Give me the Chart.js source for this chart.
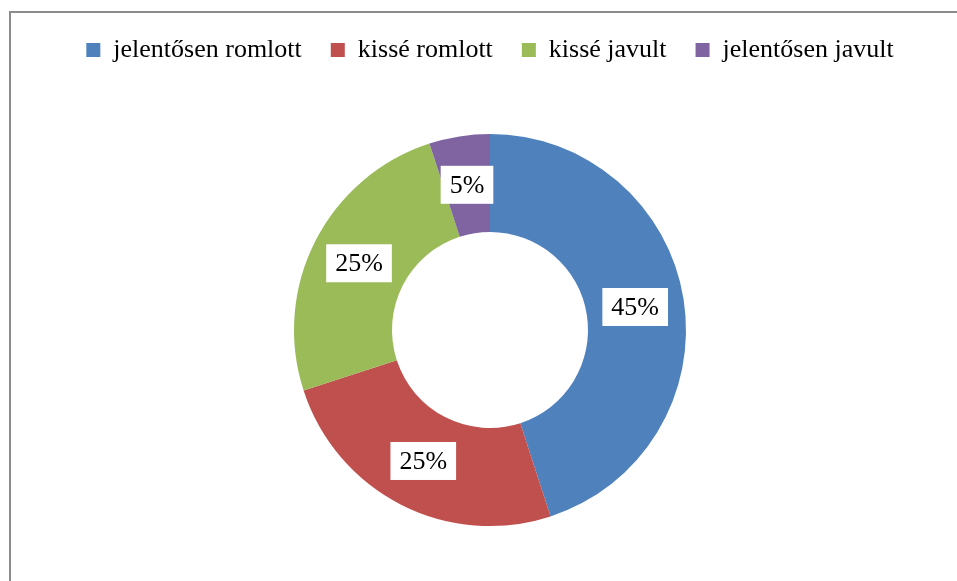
<!DOCTYPE html>
<html>
<head>
<meta charset="utf-8">
<script src="https://cdn.jsdelivr.net/npm/chart.js@4.4.1/dist/chart.umd.min.js"></script>
<style>
  html, body { margin: 0; padding: 0; background: #fff; overflow: hidden; width: 957px; height: 581px; }
  #frame { position: absolute; left: 9px; top: 11px; width: 960px; height: 580px; border-left: 2px solid #8c8c8c; border-top: 2px solid #8c8c8c; }
  #wrap { position: absolute; left: 0; top: 0; width: 957px; height: 581px; }
</style>
</head>
<body>
<div id="frame"></div>
<div id="wrap"><canvas id="myChart"></canvas></div>
<script>
const categories = ['jelentősen romlott', 'kissé romlott', 'kissé javult', 'jelentősen javult'];
const shares = [45, 25, 25, 5];
const colors = ['#4F81BD', '#C0504D', '#9BBB59', '#8064A2'];

const serif = '"Liberation Serif", "Times New Roman", serif';

// push the doughnut down below the legend
const legendSpacer = {
  id: 'legendSpacer',
  beforeInit(chart) {
    const fit = chart.legend.fit;
    chart.legend.fit = function () {
      fit.call(this);
      this.height = 126;
    };
  }
};

// percentage labels in white boxes
const valueBoxes = {
  id: 'valueBoxes',
  afterDatasetsDraw(chart) {
    const ctx = chart.ctx;
    const meta = chart.getDatasetMeta(0);
    ctx.save();
    ctx.font = '26px ' + serif;
    ctx.textAlign = 'center';
    ctx.textBaseline = 'middle';
    meta.data.forEach(function (arc, i) {
      const p = arc.tooltipPosition();
      const text = shares[i] + '%';
      const w = ctx.measureText(text).width + 18;
      const h = 38;
      ctx.fillStyle = '#fff';
      ctx.fillRect(p.x - w / 2, p.y - h / 2, w, h);
      ctx.fillStyle = '#000';
      ctx.fillText(text, p.x, p.y + 1);
    });
    ctx.restore();
  }
};

const data = {
  labels: categories,
  datasets: [{
    data: shares,
    backgroundColor: colors,
    borderWidth: 0
  }]
};

const config = {
  type: 'doughnut',
  data: data,
  options: {
    responsive: true,
    maintainAspectRatio: false,
    animation: false,
    cutout: '50%',
    layout: {
      padding: {top: 8, left: 32, right: 9, bottom: 55}
    },
    plugins: {
      legend: {
        position: 'top',
        labels: {
          boxWidth: 14,
          boxHeight: 14,
          padding: 29,
          color: '#000',
          font: {family: serif, size: 26}
        }
      },
      tooltip: {enabled: false}
    }
  },
  plugins: [legendSpacer, valueBoxes]
};

var ctx = document.getElementById('myChart');
var myChart = new Chart(ctx, config);
</script>
</body>
</html>
